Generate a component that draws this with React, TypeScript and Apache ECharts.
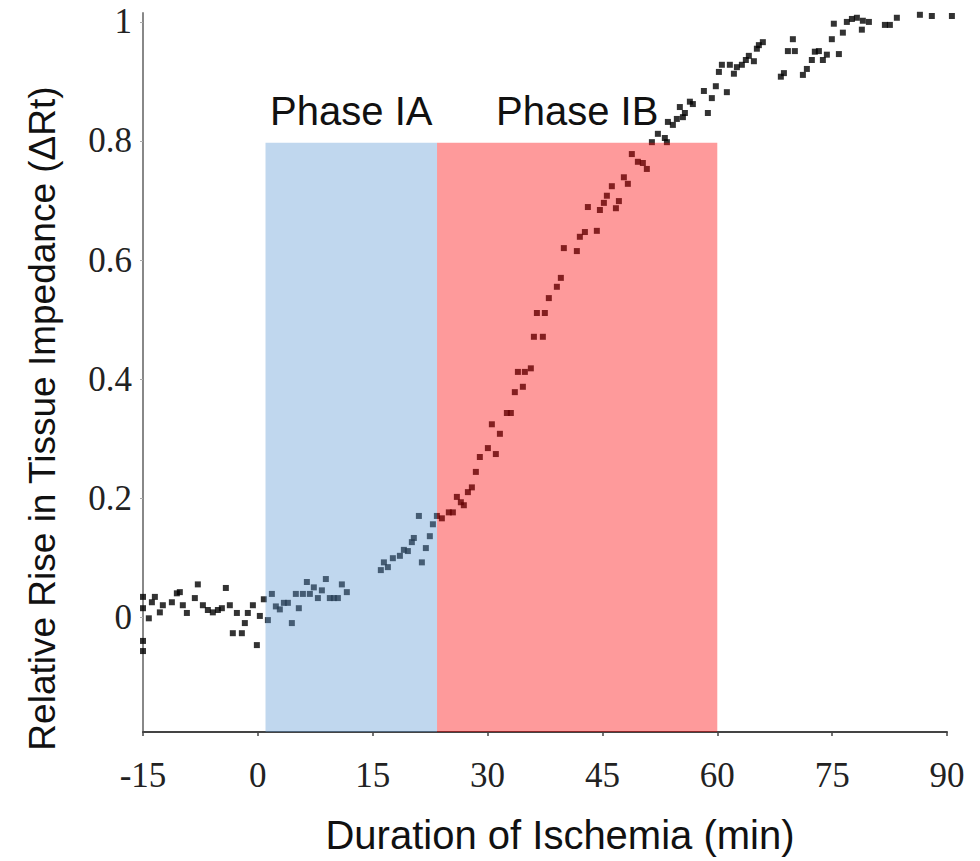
import React, { useEffect, useRef } from "react";
import * as echarts from "echarts";

// Tick values
const xTickValues = [-15, 0, 15, 30, 45, 60, 75, 90];
const yTickValues = [0, 0.2, 0.4, 0.6, 0.8, 1];

// Phases (shaded windows)
const phaseNames = ["Phase IA", "Phase IB"];
const phaseStart = [1, 23.4];
const phaseEnd = [23.4, 60];
const phaseTop = [0.797, 0.797];
const phaseColors = ["rgba(98,155,212,0.4)", "rgba(252,3,5,0.4)"];

// Measured points: duration of ischemia (min)
const durationMin = [
  -15, -15, -15, -15, -14.24, -13.84, -13.45, -12.8, -12.41, -11.23, -10.58, -10.19, -9.8, -9.27,
  -8.23, -7.84, -7.18, -6.53, -5.88, -5.22, -4.7, -4.18, -3.66, -2.74, -3.27, -2.09, -1.7, -1.31,
  -0.65, -0.13, 0.26,
  0.78, 1.31, 1.83, 2.35, 2.87, 3.4, 3.92, 4.44, 4.96, 5.35, 5.88, 6.4, 6.79, 7.31, 7.84, 8.36,
  8.88, 9.4, 9.93, 10.45, 10.97, 11.62,
  16.06, 16.46, 16.98, 17.63, 18.55, 19.07, 19.59, 20.11, 20.37, 21.03, 21.42, 21.94, 22.46, 22.86,
  23.38,
  24.03, 24.94, 25.47, 25.99, 26.51, 26.9, 27.43, 27.95, 28.47, 28.99, 30.04, 31.08, 30.56, 31.61,
  32.52, 33.04, 33.56, 34.61, 33.96, 34.87, 35.65, 36.05, 37.22, 36.44, 37.48, 38.0,
  39.05, 39.57, 39.96, 41.66, 42.05, 42.71, 44.27, 43.1, 44.67, 45.19, 45.58, 46.23, 46.76, 47.15,
  47.8, 48.32, 48.84, 49.63, 50.28, 50.8, 51.46, 52.24, 53.15, 53.42, 53.55, 54.2, 54.72,
  55.11, 55.51, 55.77, 56.42, 56.81, 58.25, 58.77, 59.29, 59.81, 61.25, 60.21, 60.6, 61.64, 62.17,
  62.56, 63.21, 63.73, 64.12, 64.78, 65.17, 65.43, 65.95, 68.3, 68.7, 69.87, 69.22, 70.13, 71.18,
  71.7, 72.35, 72.74, 73.27, 73.79, 74.31, 74.96, 75.88, 75.22, 76.4, 76.92, 77.58, 78.23, 78.88,
  79.01, 79.8, 81.89, 82.54, 83.45, 86.46, 88.02, 90.64,
];

// Measured points: relative rise in tissue impedance
const deltaRt = [
  0.034, 0.015, -0.04, -0.057, -0.002, 0.025, 0.034, 0.008, 0.02, 0.025, 0.04, 0.042, 0.02, 0.007,
  0.032, 0.055, 0.02, 0.012, 0.008, 0.012, 0.015, 0.049, 0.02, 0.007, -0.027, -0.027, -0.01, 0.007,
  0.02, -0.047, 0.002,
  0.03, -0.005, 0.039, 0.018, 0.013, 0.024, 0.024, -0.01, 0.039, 0.015, 0.039, 0.059, 0.039, 0.05,
  0.032, 0.045, 0.064, 0.032, 0.032, 0.032, 0.055, 0.042,
  0.079, 0.092, 0.084, 0.099, 0.103, 0.113, 0.111, 0.126, 0.133, 0.17, 0.092, 0.116, 0.136, 0.156,
  0.17,
  0.166, 0.176, 0.176, 0.202, 0.193, 0.188, 0.21, 0.218, 0.244, 0.269, 0.284, 0.274, 0.324, 0.308,
  0.343, 0.343, 0.378, 0.387, 0.412, 0.412, 0.418, 0.471, 0.471, 0.511, 0.511, 0.536,
  0.555, 0.57, 0.62, 0.615, 0.639, 0.647, 0.649, 0.689, 0.684, 0.696, 0.708, 0.724, 0.687, 0.699,
  0.739, 0.728, 0.778, 0.765, 0.763, 0.753, 0.798, 0.812, 0.805, 0.798, 0.832, 0.827, 0.837,
  0.857, 0.84, 0.847, 0.866, 0.862, 0.884, 0.847, 0.872, 0.892, 0.882, 0.916, 0.928, 0.928, 0.913,
  0.924, 0.928, 0.936, 0.943, 0.934, 0.955, 0.961, 0.966, 0.908, 0.914, 0.971, 0.951, 0.951, 0.911,
  0.921, 0.936, 0.95, 0.951, 0.936, 0.945, 0.971, 0.946, 0.997, 0.982, 1.0, 1.005, 1.007, 0.987,
  1.002, 1.0, 0.995, 0.995, 1.007, 1.012, 1.01, 1.01,
];

const X_MIN = -15;
const X_MAX = 90;
const Y_MIN = -0.193;
const Y_MAX = 1.015;

export default function App() {
  const ref = useRef<HTMLDivElement>(null);

  useEffect(() => {
    if (!ref.current) return;
    const chart = echarts.init(ref.current, null, { renderer: "svg" });

    const points = durationMin.map((x, i) => [x, deltaRt[i]]);
    const phases = phaseNames.map((_, i) => [phaseStart[i], phaseEnd[i], phaseTop[i]]);

    chart.setOption({
      animation: false,
      backgroundColor: "#ffffff",
      grid: { left: 143, right: 33, top: 13, bottom: 129, containLabel: false },
      xAxis: {
        type: "value",
        min: X_MIN,
        max: X_MAX,
        interval: 15,
        name: "Duration of Ischemia (min)",
        nameLocation: "middle",
        nameGap: 83,
        nameTextStyle: {
          fontFamily: "Liberation Sans",
          fontSize: 40,
          color: "#111",
          padding: [0, 0, 0, 30],
        },
        axisLine: { show: true, onZero: false, lineStyle: { color: "#444", width: 2 } },
        axisTick: { show: true, length: 4, lineStyle: { color: "#444", width: 1.5 } },
        splitLine: { show: false },
        axisLabel: {
          fontFamily: "Liberation Serif",
          fontSize: 35,
          color: "#222",
          margin: 26,
          customValues: xTickValues,
        },
      },
      yAxis: {
        type: "value",
        min: Y_MIN,
        max: Y_MAX,
        name: "Relative Rise in Tissue Impedance (\u0394Rt)",
        nameLocation: "middle",
        nameGap: 82,
        nameTextStyle: {
          fontFamily: "Liberation Sans",
          fontSize: 37,
          color: "#111",
          padding: [0, 92, 0, 0],
        },
        axisLine: { show: true, onZero: false, lineStyle: { color: "#888", width: 2 } },
        axisTick: {
          show: true,
          length: 3,
          customValues: yTickValues,
          lineStyle: { color: "#aaa", width: 1 },
        },
        splitLine: { show: false },
        axisLabel: {
          fontFamily: "Liberation Serif",
          fontSize: 35,
          color: "#222",
          margin: 11,
          customValues: yTickValues,
          formatter: (v: number) => String(v),
        },
      },
      series: [
        {
          type: "scatter",
          z: 2,
          symbol: "rect",
          symbolSize: 6,
          clip: false,
          itemStyle: { color: "#000" },
          data: points,
        },
        {
          type: "custom",
          z: 3,
          clip: false,
          encode: { x: [0, 1], y: 2 },
          data: phases,
          renderItem: (params: any, api: any) => {
            const i = params.dataIndex;
            const p0 = api.coord([api.value(0), api.value(2)]);
            const p1 = api.coord([api.value(1), Y_MIN]);
            return {
              type: "group",
              children: [
                {
                  type: "rect",
                  shape: { x: p0[0], y: p0[1], width: p1[0] - p0[0], height: p1[1] - p0[1] },
                  style: { fill: phaseColors[i] },
                },
                {
                  type: "text",
                  style: {
                    text: phaseNames[i],
                    x: (p0[0] + p1[0]) / 2,
                    y: p0[1] - 12,
                    textAlign: "center",
                    textVerticalAlign: "bottom",
                    fontFamily: "Liberation Sans",
                    fontSize: 40,
                    fill: "#111",
                  },
                },
              ],
            };
          },
        },
      ],
    });

    return () => chart.dispose();
  }, []);

  return (
    <div
      ref={ref}
      style={{ position: "fixed", left: 0, top: 0, width: 980, height: 861, background: "#fff" }}
    />
  );
}
